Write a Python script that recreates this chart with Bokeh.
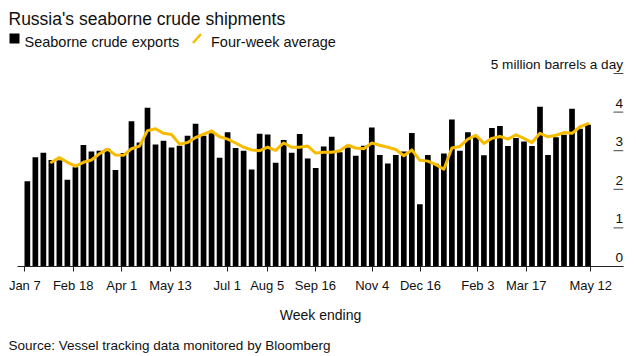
from bokeh.plotting import figure
from bokeh.models import FixedTicker, Range1d
from bokeh.embed import file_html
from bokeh.resources import INLINE
from bokeh.core.properties import value

# ---- data ----
weeks = list(range(71))  # weekly observations, Jan 2023 - May 2024
exports = [2.21, 2.83, 2.95, 2.76, 2.75, 2.25, 2.57, 3.15, 2.98, 3.00,
           3.05, 2.50, 2.94, 3.76, 3.21, 4.11, 3.16, 3.26, 3.08, 3.13,
           3.39, 3.70, 3.39, 3.45, 2.82, 3.48, 3.07, 3.00, 2.51, 3.44,
           3.42, 2.69, 3.28, 2.95, 3.43, 2.80, 2.55, 3.11, 3.36, 2.96,
           3.08, 2.87, 3.13, 3.60, 2.89, 2.67, 2.89, 2.98, 3.46, 1.61,
           2.89, 2.66, 2.93, 3.81, 3.00, 3.48, 3.35, 2.88, 3.59, 3.64,
           3.12, 3.33, 3.24, 3.12, 4.14, 2.89, 3.35, 3.41, 4.09, 3.57,
           3.67]
avg_weeks = list(range(3, 71))
four_week_avg = [2.70, 2.82, 2.70, 2.60, 2.70, 2.76, 2.92, 3.04, 2.89, 2.88,
                 3.05, 3.12, 3.52, 3.57, 3.45, 3.42, 3.17, 3.21, 3.34, 3.43,
                 3.51, 3.36, 3.30, 3.20, 3.09, 3.02, 3.00, 3.09, 3.01, 3.20,
                 3.09, 3.09, 3.12, 2.94, 2.96, 2.96, 3.00, 3.14, 3.07, 3.05,
                 3.20, 3.14, 3.09, 3.03, 2.87, 3.02, 2.75, 2.73, 2.64, 2.52,
                 3.07, 3.11, 3.30, 3.40, 3.19, 3.32, 3.37, 3.30, 3.41, 3.32,
                 3.21, 3.45, 3.36, 3.40, 3.47, 3.45, 3.62, 3.70]
x_tick_pos = [-0.32, 5.72, 11.79, 17.87, 24.95, 29.94, 35.97, 43.05, 49.08,
              56.24, 62.28, 70.34]
x_tick_labels = ["Jan 7", "Feb 18", "Apr 1", "May 13", "Jul 1", "Aug 5",
                 "Sep 16", "Nov 4", "Dec 16", "Feb 3", "Mar 17", "May 12"]
y_ticks = [0, 1, 2, 3, 4, 5]
y_tick_labels = ["0", "1", "2", "3", "4", "5 million barrels a day"]

FONT = "Liberation Sans"
YELLOW = "#F7BC00"
INK = "#111111"

# canvas-pixel -> data helpers (frame: x 17..623, y 0..266 on the canvas)
X0, PXW = 26.85, 8.01     # canvas x of week 0 centre, px per week
Y0, PXU = 266.0, 38.6     # canvas y of value 0, px per unit


def dx(px):
    return (px - X0) / PXW


def dy(py):
    return (Y0 - py) / PXU


p = figure(width=636, height=356, output_backend="svg", toolbar_location=None,
           x_range=Range1d(dx(17), dx(623)), y_range=Range1d(0, dy(0)),
           y_axis_location=None,
           min_border_left=17, min_border_right=13, min_border_top=0,
           min_border_bottom=90)
p.outline_line_color = None
p.grid.visible = False
p.background_fill_color = "white"
p.border_fill_color = "white"

p.vbar(x=weeks, top=exports, width=0.71, fill_color="black", line_color=None)
p.line(x=avg_weeks, y=four_week_avg, line_color=YELLOW, line_width=3,
       line_join="round", line_cap="round")

ax = p.xaxis[0]
ax.ticker = FixedTicker(ticks=x_tick_pos, minor_ticks=[])
ax.major_label_overrides = {pos: lab for pos, lab in zip(x_tick_pos, x_tick_labels)}
ax.axis_line_color = "#222222"
ax.major_tick_line_color = "#222222"
ax.major_tick_out = 5
ax.major_tick_in = 0
ax.minor_tick_line_color = None
ax.major_label_text_font = FONT
ax.major_label_text_font_size = "13px"
ax.major_label_text_color = INK
ax.major_label_standoff = 6
ax.axis_label = "Week ending"
ax.axis_label_text_font = FONT
ax.axis_label_text_font_size = "14px"
ax.axis_label_text_font_style = "normal"
ax.axis_label_text_color = INK
ax.axis_label_standoff = 11

# right-hand value ticks, Bloomberg style (label above short tick)
p.segment(x0=[dx(613)] * len(y_ticks), x1=[dx(623)] * len(y_ticks),
          y0=y_ticks, y1=y_ticks, line_color="#444444", line_width=1)
p.text(x=[dx(622.5)] * len(y_ticks), y=y_ticks, text=y_tick_labels,
       text_align="right", text_baseline="alphabetic", y_offset=-9,
       text_font=value(FONT), text_font_size="13.6px", text_color=INK)

# title and legend
p.text(x=[dx(8)], y=[dy(18.5)], text=["Russia's seaborne crude shipments"],
       text_align="left", text_baseline="alphabetic", text_font=value(FONT),
       text_font_size="17.5px", text_color=INK, level="overlay")
p.scatter(x=[dx(14)], y=[dy(38)], marker="square", size=10,
          fill_color="black", line_color=None, level="overlay")
p.text(x=[dx(24), dx(210.5)], y=[dy(41.7), dy(41.7)],
       text=["Seaborne crude exports", "Four-week average"],
       text_align="left", text_baseline="alphabetic", text_font=value(FONT),
       text_font_size="14.5px", text_color=INK, level="overlay")
p.segment(x0=[dx(192.5)], y0=[dy(42.5)], x1=[dx(200.5)], y1=[dy(33.5)],
          line_color=YELLOW, line_width=2.5, level="overlay")

# source
p.text(x=[dx(8)], y=[dy(345)], text=["Source: Vessel tracking data monitored by Bloomberg"],
       text_align="left", text_baseline="alphabetic", text_font=value(FONT),
       text_font_size="13.5px", text_color=INK, level="overlay")

open("out.html", "w").write(file_html(p, INLINE))
